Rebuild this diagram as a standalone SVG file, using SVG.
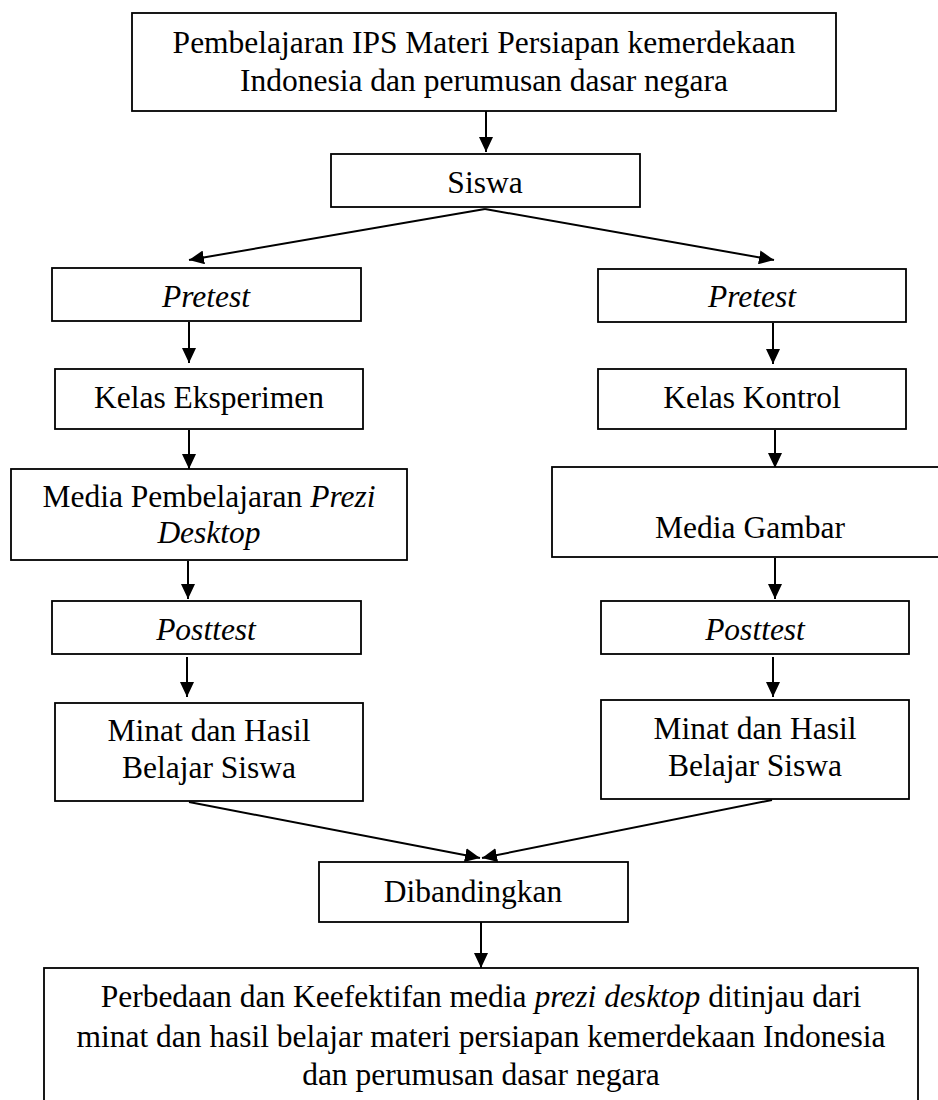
<svg xmlns="http://www.w3.org/2000/svg" width="938" height="1100" viewBox="0 0 938 1100">
<defs>
<style>
.box{fill:#fff;stroke:#000;stroke-width:1.8}
.t{font-family:"Liberation Serif","Times New Roman",serif;font-size:31.5px;fill:#000;text-anchor:middle}
.i{font-style:italic}
.c{stroke:#000;stroke-width:2;fill:none;marker-end:url(#ah)}
</style>
<marker id="ah" markerUnits="userSpaceOnUse" markerWidth="16" markerHeight="14" refX="15" refY="7" orient="auto">
<path d="M0,0 L15,7 L0,14 z" fill="#000"/>
</marker>
</defs>
<rect width="938" height="1100" fill="#fff"/>
<g id="connectors">
<line class="c" x1="486" y1="111" x2="486" y2="152"/>
<line class="c" x1="485" y1="209" x2="189" y2="260"/>
<line class="c" x1="485" y1="209" x2="774" y2="260"/>
<line class="c" x1="189" y1="322" x2="189" y2="363"/>
<line class="c" x1="773" y1="323" x2="773" y2="364"/>
<line class="c" x1="189" y1="430" x2="189" y2="469"/>
<line class="c" x1="775" y1="430" x2="775" y2="468"/>
<line class="c" x1="188" y1="561" x2="188" y2="599"/>
<line class="c" x1="775" y1="558" x2="775" y2="599"/>
<line class="c" x1="187" y1="657" x2="187" y2="697"/>
<line class="c" x1="773" y1="657" x2="773" y2="697"/>
<line class="c" x1="189" y1="802" x2="480" y2="858"/>
<line class="c" x1="772" y1="800" x2="482" y2="858"/>
<line class="c" x1="481" y1="922" x2="481" y2="968"/>
</g>
<g id="n-top">
<rect class="box" x="132" y="13" width="704" height="98"/>
<text class="t" x="484" y="53">Pembelajaran IPS Materi Persiapan kemerdekaan</text>
<text class="t" x="484" y="91">Indonesia dan perumusan dasar negara</text>
</g>
<g id="n-siswa">
<rect class="box" x="331" y="154" width="309" height="53"/>
<text class="t" x="485" y="193">Siswa</text>
</g>
<g id="n-pretest-l">
<rect class="box" x="52" y="268" width="309" height="53"/>
<text class="t i" x="206" y="307">Pretest</text>
</g>
<g id="n-pretest-r">
<rect class="box" x="598" y="269" width="308" height="53"/>
<text class="t i" x="752" y="307">Pretest</text>
</g>
<g id="n-eksperimen">
<rect class="box" x="55" y="369" width="308" height="60"/>
<text class="t" x="209" y="408">Kelas Eksperimen</text>
</g>
<g id="n-kontrol">
<rect class="box" x="598" y="369" width="308" height="60"/>
<text class="t" x="752" y="408">Kelas Kontrol</text>
</g>
<g id="n-prezi">
<rect class="box" x="11" y="469" width="396" height="91"/>
<text class="t" x="209" y="507">Media Pembelajaran <tspan class="i">Prezi</tspan></text>
<text class="t i" x="209" y="543">Desktop</text>
</g>
<g id="n-gambar">
<rect class="box" x="552" y="467" width="396" height="90"/>
<text class="t" x="750" y="538">Media Gambar</text>
</g>
<g id="n-posttest-l">
<rect class="box" x="52" y="601" width="309" height="53"/>
<text class="t i" x="206" y="640">Posttest</text>
</g>
<g id="n-posttest-r">
<rect class="box" x="601" y="601" width="308" height="53"/>
<text class="t i" x="755" y="640">Posttest</text>
</g>
<g id="n-minat-l">
<rect class="box" x="55" y="703" width="308" height="98"/>
<text class="t" x="209" y="741">Minat dan Hasil</text>
<text class="t" x="209" y="778">Belajar Siswa</text>
</g>
<g id="n-minat-r">
<rect class="box" x="601" y="700" width="308" height="99"/>
<text class="t" x="755" y="739">Minat dan Hasil</text>
<text class="t" x="755" y="776">Belajar Siswa</text>
</g>
<g id="n-dibandingkan">
<rect class="box" x="319" y="862" width="309" height="60"/>
<text class="t" x="473" y="902">Dibandingkan</text>
</g>
<g id="n-hasil">
<rect class="box" x="44" y="968" width="874" height="150"/>
<text class="t" x="481" y="1007">Perbedaan dan Keefektifan media <tspan class="i">prezi desktop</tspan> ditinjau dari</text>
<text class="t" x="481" y="1047">minat dan hasil belajar materi persiapan kemerdekaan Indonesia</text>
<text class="t" x="481" y="1085">dan perumusan dasar negara</text>
</g>
</svg>
